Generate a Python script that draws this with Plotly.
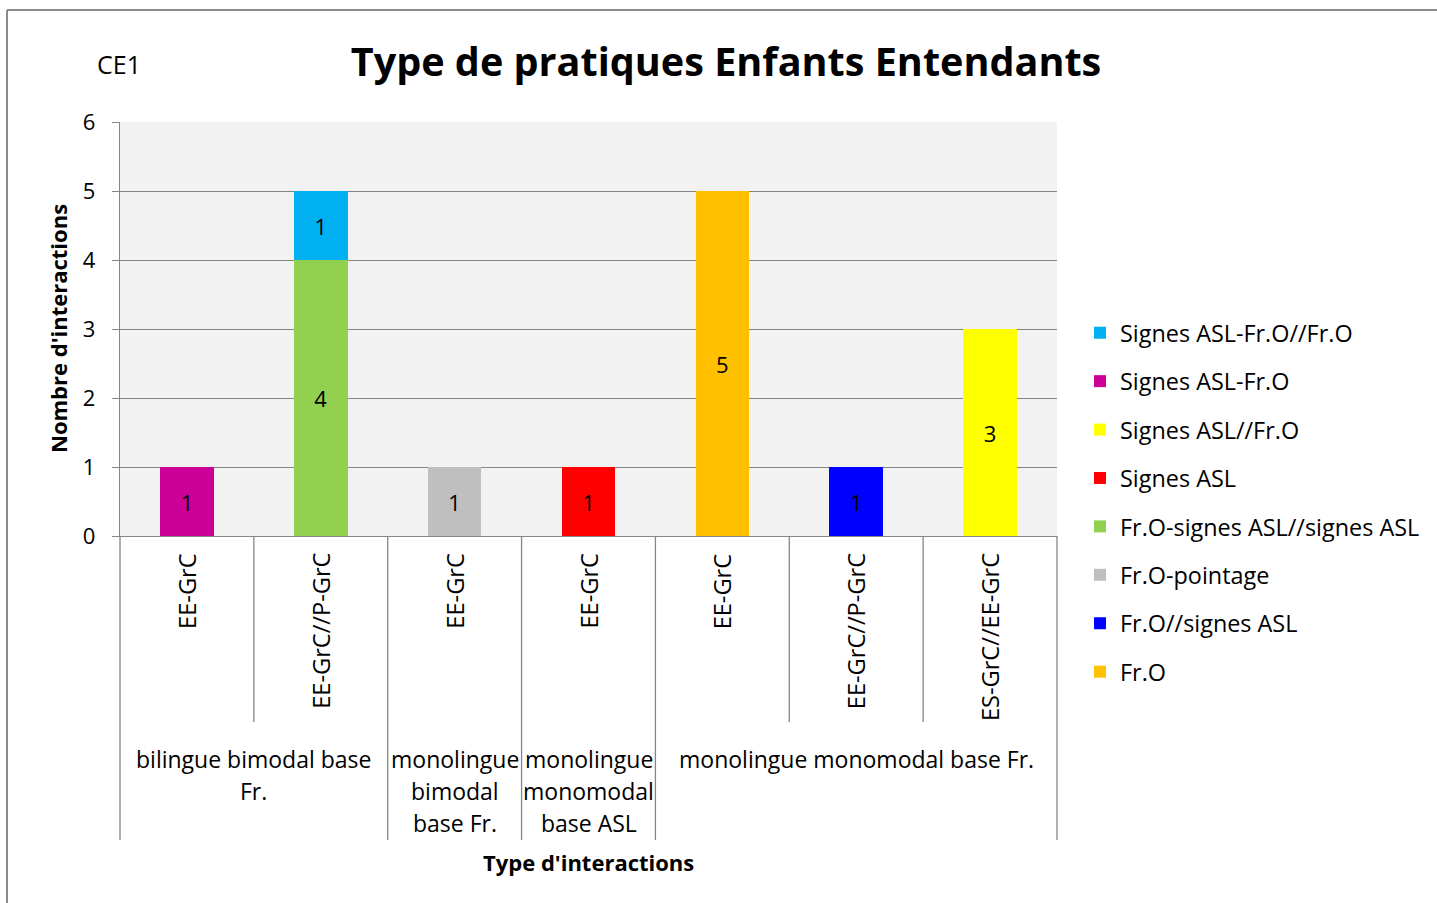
import plotly.graph_objects as go

# ---------------- data ----------------
categories = ["EE-GrC", "EE-GrC//P-GrC", "EE-GrC", "EE-GrC", "EE-GrC",
              "EE-GrC//P-GrC", "ES-GrC//EE-GrC"]
cat_pos = [0, 1, 2, 3, 4, 5, 6]

group_labels = ["bilingue bimodal base\nFr.",
                "monolingue\nbimodal\nbase Fr.",
                "monolingue\nmonomodal\nbase ASL",
                "monolingue monomodal base Fr."]
group_first = [0, 2, 3, 4]
group_last = [1, 2, 3, 6]

# series in stacking order (bottom -> top)
fr_o = [None, None, None, None, 5, None, None]
fr_o_signes = [None, None, None, None, None, 1, None]
fr_o_pointage = [None, None, 1, None, None, None, None]
fr_o_signes_asl_signes = [None, 4, None, None, None, None, None]
signes_asl = [None, None, None, 1, None, None, None]
signes_asl_fr_o_par = [None, None, None, None, None, None, 3]
signes_asl_fr_o = [1, None, None, None, None, None, None]
signes_asl_fr_o_fr_o = [None, 1, None, None, None, None, None]

series = [
    ("Fr.O", fr_o, "#FFC000"),
    ("Fr.O//signes ASL", fr_o_signes, "#0000FF"),
    ("Fr.O-pointage", fr_o_pointage, "#BFBFBF"),
    ("Fr.O-signes ASL//signes ASL", fr_o_signes_asl_signes, "#92D050"),
    ("Signes ASL", signes_asl, "#FF0000"),
    ("Signes ASL//Fr.O", signes_asl_fr_o_par, "#FFFF00"),
    ("Signes ASL-Fr.O", signes_asl_fr_o, "#CC0099"),
    ("Signes ASL-Fr.O//Fr.O", signes_asl_fr_o_fr_o, "#00B0F0"),
]

title_text = "Type de pratiques Enfants Entendants"
y_title = "Nombre d'interactions"
x_title = "Type d'interactions"
corner_label = "CE1"

# ---------------- layout constants ----------------
W, H = 1437, 903
PL, PR, PT, PB = 120, 1057, 122, 536  # plot area pixels
FONT = "Open Sans"
GRID = "#868686"
XMIN, XMAX = -0.5, 6.5


def py(p):  # pixel y -> paper y
    return (PB - p) / (PB - PT)


def px(p):  # pixel x -> paper x
    return (p - PL) / (PR - PL)


def xpaper(v):  # data x -> paper x
    return (v - XMIN) / (XMAX - XMIN)


fig = go.Figure()
n = len(series)
for i, (name, vals, col) in enumerate(series):
    fig.add_trace(go.Bar(
        x=cat_pos, y=vals, name=name, marker=dict(color=col, line=dict(width=0)),
        text=[("%d" % v) if v else "" for v in vals],
        textposition="inside", insidetextanchor="middle",
        textfont=dict(color="black", size=22, family=FONT),
        legendgroup=name, legendrank=100 + (n - i), hoverinfo="name+y",
    ))

shapes = []
# chart border (top + left)
shapes.append(dict(type="line", xref="paper", yref="paper", x0=px(7), x1=px(W + 5),
                   y0=py(10), y1=py(10), line=dict(color="#8C8C8C", width=2)))
shapes.append(dict(type="line", xref="paper", yref="paper", x0=px(7), x1=px(7),
                   y0=py(10), y1=py(H + 5), line=dict(color="#8C8C8C", width=2)))

# category separators
bottom_inner = py(722)
bottom_outer = py(840)
group_bounds = set([g - 0.5 for g in group_first] + [group_last[-1] + 0.5])
for b in [c - 0.5 for c in cat_pos] + [cat_pos[-1] + 0.5]:
    yb = bottom_outer if b in group_bounds else bottom_inner
    shapes.append(dict(type="line", xref="paper", yref="paper", x0=xpaper(b), x1=xpaper(b),
                       y0=0, y1=yb, line=dict(color=GRID, width=1.3)))

annotations = []
# category labels (rotated)
for c, lab in zip(cat_pos, categories):
    annotations.append(dict(x=c, y=py(551), xref="x", yref="paper", text=lab, textangle=-90,
                            showarrow=False, xanchor="center", yanchor="top",
                            font=dict(size=23.6, family=FONT, color="black")))
# group labels
line_y = [759, 791, 823]
for lab, f, l in zip(group_labels, group_first, group_last):
    xc = (f + l) / 2
    for i, line in enumerate(lab.split("\n")):
        annotations.append(dict(x=xc, y=py(line_y[i]), xref="x", yref="paper", text=line,
                                showarrow=False, xanchor="center", yanchor="middle",
                                font=dict(size=23, family=FONT, color="black")))
# axis titles, corner label
annotations.append(dict(x=xpaper(3), y=py(862), xref="paper", yref="paper", text="<b>%s</b>" % x_title,
                        showarrow=False, xanchor="center", yanchor="middle",
                        font=dict(size=22, family=FONT, color="black")))
annotations.append(dict(x=px(58), y=0.5, xref="paper", yref="paper", text="<b>%s</b>" % y_title,
                        textangle=-90, showarrow=False, xanchor="center", yanchor="middle",
                        font=dict(size=22, family=FONT, color="black")))
annotations.append(dict(x=px(119), y=py(64), xref="paper", yref="paper", text=corner_label,
                        showarrow=False, xanchor="center", yanchor="middle",
                        font=dict(size=25, family=FONT, color="black")))

fig.update_layout(
    width=W, height=H,
    margin=dict(l=PL, r=W - PR, t=PT, b=H - PB, pad=0),
    paper_bgcolor="white", plot_bgcolor="#F2F2F2",
    barmode="stack", bargap=0.6,
    title=dict(text="<b>%s</b>" % title_text, x=726 / W, y=1 - 62 / H, xanchor="center",
               yanchor="middle", xref="container", yref="container",
               font=dict(size=39.6, family=FONT, color="black")),
    font=dict(family=FONT, size=22, color="black"),
    showlegend=True,
    legend=dict(x=px(1080), y=py(311), xanchor="left", yanchor="top",
                traceorder="grouped", tracegroupgap=15, itemwidth=30,
                font=dict(size=23.4, family=FONT, color="black"), bgcolor="rgba(0,0,0,0)"),
    shapes=shapes, annotations=annotations,
)
fig.update_xaxes(range=[XMIN, XMAX], showticklabels=False, showgrid=False, zeroline=False,
                 showline=True, linecolor=GRID, linewidth=1.3, ticks="")
fig.update_yaxes(range=[0, 6], dtick=1, tick0=0, showgrid=True, gridcolor=GRID, gridwidth=1.3,
                 zeroline=False, showline=True, linecolor=GRID, linewidth=1.3,
                 ticks="outside", ticklen=7, tickcolor=GRID, tickwidth=1.3,
                 ticklabelstandoff=12, tickfont=dict(size=22, family=FONT, color="black"))

fig.write_html("out.html", config={"displayModeBar": False},
               post_script="document.body.style.margin='0';document.body.style.overflow='hidden';")
